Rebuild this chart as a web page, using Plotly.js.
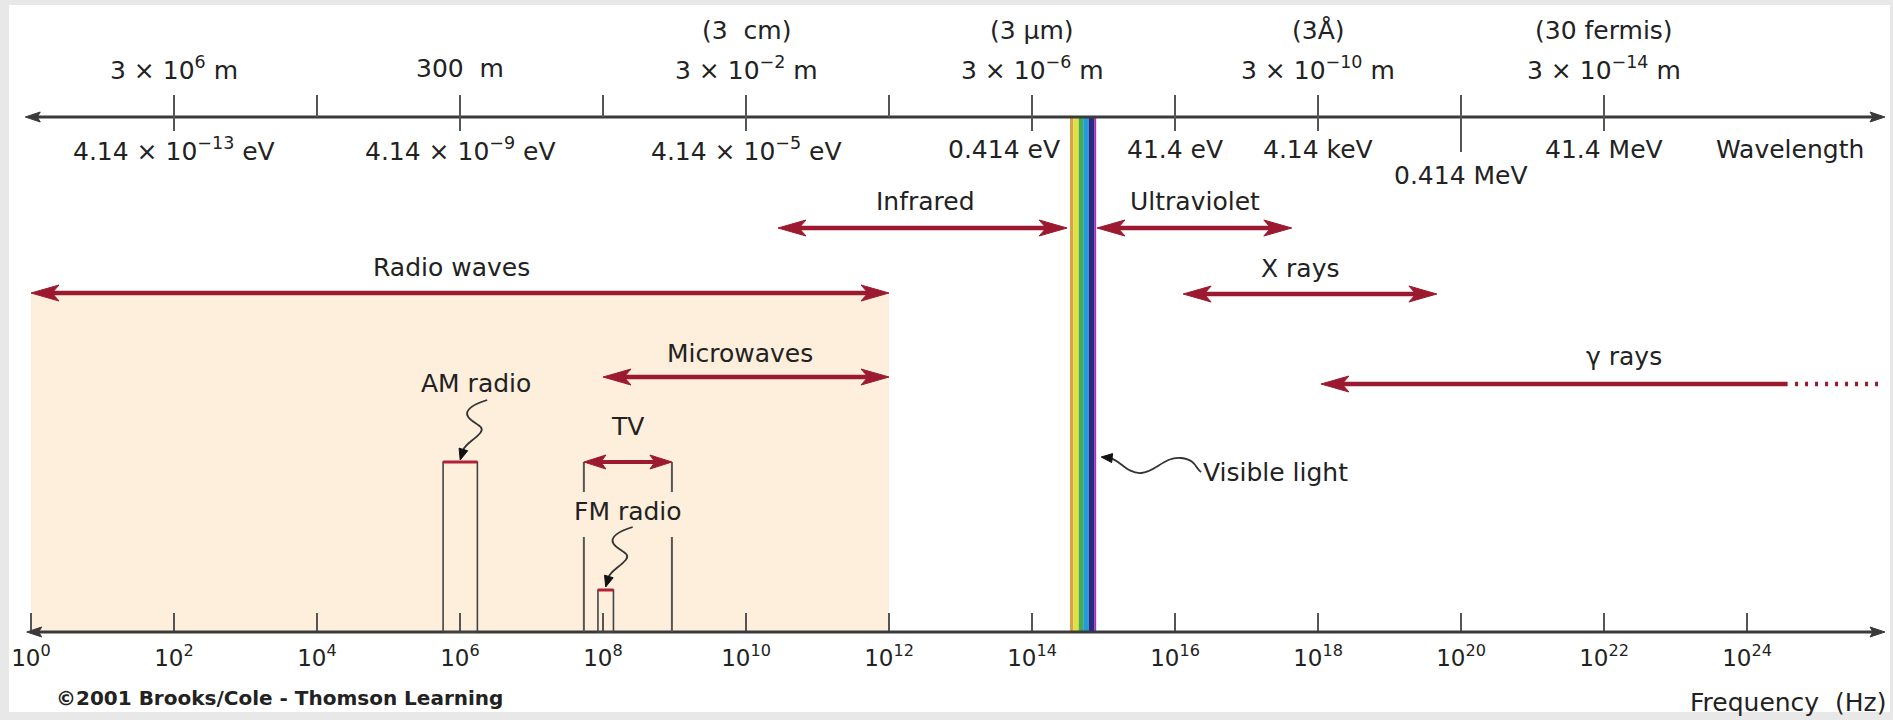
<!DOCTYPE html>
<html><head><meta charset="utf-8">
<script src="https://cdn.plot.ly/plotly-3.0.1.min.js"></script>
<style>html,body{margin:0;padding:0;background:#e8e8e8;overflow:hidden}#chart{width:1893px;height:720px}</style>
</head><body><div id="chart"></div>
<script>
// ---------------- data ----------------
const freqTickExp = [0,2,4,6,8,10,12,14,16,18,20,22,24];
const wlTickExp = [2,4,6,8,10,12,14,16,18,20,22];
const wlLongTickExp = [2,6,10,14,16,18,20,22];
const wlLabelExp = [2,6,10,14,18,22];
const wlLabels = ['3 × 10<sup>6</sup> m','300\u00a0 m','3 × 10<sup>−2</sup> m','3 × 10<sup>−6</sup> m','3 × 10<sup>−10</sup> m','3 × 10<sup>−14</sup> m'];
const wlAltExp = [10,14,18,22];
const wlAltLabels = ['(3\u00a0 cm)','(3 µm)','(3Å)','(30 fermis)'];
const evLabelExp = [2,6,10,14,16,18,20,22];
const evLabels = ['4.14 × 10<sup>−13</sup> eV','4.14 × 10<sup>−9</sup> eV','4.14 × 10<sup>−5</sup> eV','0.414 eV','41.4 eV','4.14 keV','0.414 MeV','41.4 MeV'];

const bandNames  = ['Radio waves','Microwaves','Infrared','Ultraviolet','X rays','γ rays'];
const bandLowHz  = [1e0, 1e8, 2.8e10, 8.1e14, 1.3e16, 1.1e18];
const bandHighHz = [1e12, 1e12, 3.1e14, 4.3e17, 4.6e19, 3.7e24];
const bandLabelHz = [7.5e5, 8.3e9, 3.2e12, 1.9e16, 5.6e17, 1.9e22];
const bandHeads = [[1,1],[1,1],[1,1],[1,1],[1,1],[1,0]];
const gammaDotsHz = [4.7e24, 7.2e25];

const radioShadeHz = [1e0, 1e12];
const amHz = [5.8e5, 1.75e6];
const fmHz = [8.5e7, 1.4e8];
const tvHz = [5.4e7, 9.2e8];
const visibleEdgesHz = [3.4e14, 3.8e14, 4.5e14, 5.2e14, 6.2e14, 7.4e14, 7.9e14];
const visibleColors = ['#d6a443','#e0df45','#45ac4d','#229bd6','#262b83','#a336b3'];

// ---------------- layout constants ----------------
const W = 1893, H = 720, X0PX = 31, PXDEC = 71.5;
const PX = 1 / PXDEC;                    // decades per pixel
const xRange = [-X0PX / PXDEC, (W - X0PX) / PXDEC];
const FONT = 'DejaVu Sans, Liberation Sans, Arial, sans-serif';
const TXT = '#222';
const RED = '#9c1a2f';
const AX = '#555';
const yTopAxis = 117, yBottomAxis = 632;
const bandArrowY = [293, 377, 228, 228, 294, 384];
const bandLabelY = [267, 353, 201, 201, 268, 356];
const L = v => Math.log10(v);

const shapes = [];
const ann = [];

function line(x0, y0, x1, y1, color, width, dash, layer) {
  shapes.push({type:'line', xref:'x', yref:'y', x0, y0, x1, y1, layer: layer || 'above',
    line:{color, width, dash: dash || 'solid'}});
}
function rect(x0, y0, x1, y1, fill, lineColor, lineWidth, layer) {
  shapes.push({type:'rect', xref:'x', yref:'y', x0, y0, x1, y1, fillcolor: fill, layer: layer || 'above',
    line:{color: lineColor || 'rgba(0,0,0,0)', width: lineWidth || 0}});
}
function headPath(xt, y, dir, len, half, notch, color) {
  const xb = xt - dir * len * PX, xn = xt - dir * (len - notch) * PX;
  return {shape:{type:'path', xref:'x', yref:'y',
    path:`M${xt},${y}L${xb},${y - half}L${xn},${y}L${xb},${y + half}Z`,
    fillcolor: color, line:{color, width:1}}, notch: xn + dir * 1 * PX};
}
function arrow(xl, xr, y, hl, hr, o) {
  let sl = xl, sr = xr, hs = [];
  if (hl) { const h = headPath(xl, y, -1, o.len, o.half, o.notch, o.color); sl = h.notch; hs.push(h.shape); }
  if (hr) { const h = headPath(xr, y, 1, o.len, o.half, o.notch, o.color); sr = h.notch; hs.push(h.shape); }
  line(sl, y, sr, y, o.color, o.width);
  hs.forEach(s => shapes.push(s));
}
function tri(tx, ty, dx, dy, len, half, color) {
  const n = Math.hypot(dx, dy); dx /= n; dy /= n;
  const bx = -dx * len, by = -dy * len, qx = -dy * half, qy = dx * half;
  const P = (ox, oy) => `${tx + ox * PX},${ty + oy}`;
  shapes.push({type:'path', xref:'x', yref:'y', path:`M${P(0,0)}L${P(bx + qx, by + qy)}L${P(bx - qx, by - qy)}Z`,
    fillcolor: color, line:{color, width:1}});
}
function curve(tx, ty, cmds, color, width) {
  let p = '';
  cmds.forEach(c => {
    p += c[0];
    const pts = [];
    for (let i = 1; i < c.length; i += 2) pts.push(`${tx + c[i] * PX},${ty + c[i + 1]}`);
    p += pts.join(' ');
  });
  shapes.push({type:'path', xref:'x', yref:'y', path: p, line:{color, width}});
}
function txt(x, y, text, size, extra) {
  ann.push(Object.assign({x, y, xref:'x', yref:'y', text, showarrow:false,
    font:{family:FONT, size, color:TXT}, xanchor:'center', yanchor:'middle'}, extra || {}));
}

// white frame
shapes.push({type:'rect', xref:'paper', yref:'paper', x0: 9 / W, x1: 1890 / W, y0: 1 - 712 / H, y1: 1 - 5 / H,
  fillcolor:'#ffffff', line:{width:0}, layer:'below'});

// radio shading
rect(L(radioShadeHz[0]), bandArrowY[0], L(radioShadeHz[1]), yBottomAxis, '#fdefdc', null, 0, 'below');

// visible spectrum strip
for (let i = 0; i < visibleColors.length; i++) {
  rect(L(visibleEdgesHz[i]), yTopAxis, L(visibleEdgesHz[i + 1]), yBottomAxis, visibleColors[i], null, 0, 'below');
}

// ---- wavelength / energy axis (top) ----
const axHead = {len:15, half:5, notch:3, color:'#3a3a3a', width:3};
arrow(-0.08, 25.93, yTopAxis, 1, 1, axHead);
wlTickExp.forEach(e => {
  let y1 = yTopAxis;
  if (wlLongTickExp.includes(e)) y1 = (e === 20) ? 152 : 131;
  line(e, 95, e, y1, AX, 2);
});
wlLabelExp.forEach((e, i) => txt(e, 68, wlLabels[i], 25));
wlAltExp.forEach((e, i) => txt(e, 30, wlAltLabels[i], 25));
evLabelExp.forEach((e, i) => {
  const lower = (e === 20);
  txt(e, lower ? 175 : 149, evLabels[i], 25, {xshift: e === 14 ? -28 : 0});
});
txt(24.6, 149, 'Wavelength', 25);

// ---- frequency axis (bottom) line ----
arrow(-0.06, 25.93, yBottomAxis, 1, 1, axHead);

// ---- band arrows ----
const bandHead = {len:28, half:8, notch:7, color:RED, width:4.5};
bandNames.forEach((n, i) => {
  arrow(L(bandLowHz[i]), L(bandHighHz[i]), bandArrowY[i], bandHeads[i][0], bandHeads[i][1], bandHead);
  txt(L(bandLabelHz[i]), bandLabelY[i], n, 25);
});
// gamma continuation (dotted)
line(L(gammaDotsHz[0]), bandArrowY[5], L(gammaDotsHz[1]), bandArrowY[5], RED, 4.5, '3px,7px');

// ---- AM radio ----
const amTop = 462;
rect(L(amHz[0]), amTop, L(amHz[1]), yBottomAxis, 'rgba(0,0,0,0)', '#444', 1.6);
line(L(amHz[0]), amTop, L(amHz[1]), amTop, '#b3203a', 3);
const amMid = (L(amHz[0]) + L(amHz[1])) / 2;
txt(amMid + 0.22, 383, 'AM radio', 25);
const sq = [['M', 27, -60], ['C', 14, -56, 3, -50, 8, -43], ['S', 26, -34, 20, -27], ['S', 5, -16, 3, -10]];
curve(amMid, amTop - 2, sq, '#333', 1.8);
tri(amMid, amTop - 2, -0.3, 1, 11, 4.5, '#111');

// ---- TV / FM ----
const tvL = L(tvHz[0]), tvR = L(tvHz[1]), tvY = 462;
line(tvL, tvY, tvL, 492, AX, 2);
line(tvR, tvY, tvR, 492, AX, 2);
line(tvL, 537, tvL, yBottomAxis, AX, 2);
line(tvR, 537, tvR, yBottomAxis, AX, 2);
arrow(tvL, tvR, tvY, 1, 1, {len:22, half:7, notch:5, color:RED, width:4});
txt((tvL + tvR) / 2, 426, 'TV', 25);
txt((tvL + tvR) / 2, 511, 'FM radio', 25);
const fmTop = 590;
rect(L(fmHz[0]), fmTop, L(fmHz[1]), yBottomAxis, 'rgba(0,0,0,0)', '#444', 1.6);
line(L(fmHz[0]), fmTop, L(fmHz[1]), fmTop, '#b3203a', 3);
const fmMid = (L(fmHz[0]) + L(fmHz[1])) / 2;
curve(fmMid, fmTop - 3, sq, '#333', 1.8);
tri(fmMid, fmTop - 3, -0.3, 1, 11, 4.5, '#111');

// ---- visible light pointer ----
const visR = L(visibleEdgesHz[visibleEdgesHz.length - 1]);
const visTipY = 457;
curve(visR + 5 * PX, visTipY, [['M', 8, 1], ['C', 18, 2, 26, 17, 40, 16], ['S', 64, -1, 80, 1], ['S', 94, 12, 100, 15]], '#333', 1.8);
tri(visR + 5 * PX, visTipY, -1, -0.1, 11, 4.5, '#111');
txt(visR + 105 * PX, 472, 'Visible light', 25, {xanchor:'left'});

// ---- footer ----
ann.push({x: 54 / W, xref:'paper', y: 698, yref:'y', xanchor:'left', yanchor:'middle', showarrow:false,
  text:'<b>©2001 Brooks/Cole - Thomson Learning</b>', font:{family:FONT, size:20, color:TXT}});
ann.push({x: 1888 / W, xref:'paper', y: 702, yref:'y', xanchor:'right', yanchor:'middle', showarrow:false,
  text:'Frequency\u00a0 (Hz)', font:{family:FONT, size:25, color:TXT}});

const layout = {
  width: W, height: H,
  margin: {l:0, r:0, t:0, b:0, pad:0},
  paper_bgcolor: '#e8e8e8', plot_bgcolor: '#e8e8e8',
  showlegend: false,
  xaxis: {range: xRange, anchor:'free', position: 1 - yBottomAxis / H, automargin:false,
    showline:false, showgrid:false, zeroline:false,
    ticks:'inside', ticklen:19, tickwidth:2, tickcolor:AX,
    tickmode:'array', tickvals: freqTickExp, ticktext: freqTickExp.map(e => `10<sup>${e}</sup>`),
    tickfont:{family:FONT, size:23, color:TXT}, ticklabelstandoff: 10, fixedrange:true},
  yaxis: {range:[H, 0], visible:false, showgrid:false, zeroline:false, fixedrange:true, automargin:false},
  shapes, annotations: ann
};
const data = [{x:[0], y:[0], type:'scatter', mode:'markers', marker:{opacity:0}, hoverinfo:'skip', showlegend:false}];
Plotly.newPlot('chart', data, layout, {staticPlot:true, displayModeBar:false});
</script></body></html>
